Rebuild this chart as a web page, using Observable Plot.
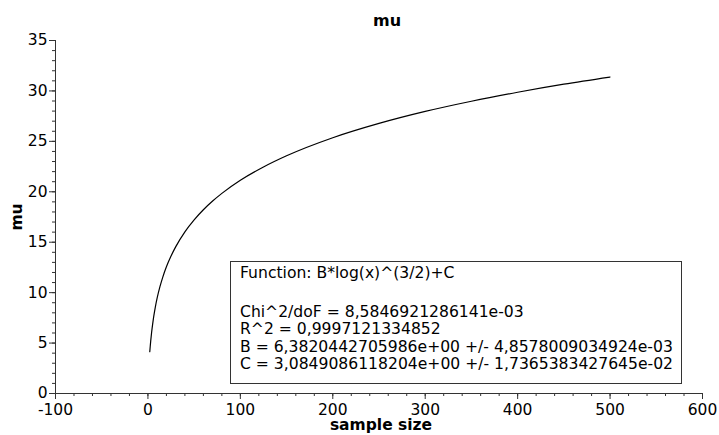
<!DOCTYPE html>
<html>
<head>
<meta charset="utf-8">
<script src="https://cdn.jsdelivr.net/npm/d3@7"></script>
<script src="https://cdn.jsdelivr.net/npm/@observablehq/plot@0.6"></script>
<style>
  html, body { margin: 0; padding: 0; background: white; }
  #wrap { position: relative; width: 719px; height: 435px; font-family: "DejaVu Sans", sans-serif; }
  #legend { position: absolute; left: 230px; top: 261px; width: 452px; height: 123px; border: 1px solid #333; background: white; font-size: 15.6px; line-height: 18px; color: #000; box-sizing: border-box; }
  #legend div { position: absolute; left: 9px; white-space: nowrap; }
</style>
</head>
<body>
<div id="wrap"></div>
<script>
// Sample sizes and fitted mu values
const sampleSize = [2, 2.5, 3, 4, 5, 6, 7, 8, 10, 13, 16, 20, 25, 30, 40, 50, 60, 70, 80, 100, 125, 150, 200, 250, 300, 350, 400, 450, 500];
const muValues   = [4.14, 4.69, 5.19, 6.07, 6.81, 7.47, 8.04, 8.56, 9.47, 10.59, 11.52, 12.56, 13.63, 14.54, 16.03, 17.22, 18.22, 19.08, 19.84, 21.14, 22.46, 23.57, 25.36, 26.78, 27.97, 28.98, 29.87, 30.67, 31.38];

// Tick labels
const xTicks = [-100, 0, 100, 200, 300, 400, 500, 600];
const yTicks = [0, 5, 10, 15, 20, 25, 30, 35];
const xMinorTicks = d3.range(-100, 601, 20);
const yMinorTicks = d3.range(0, 36, 1);

// Texts
const titleText = "mu";
const xLabel = "sample size";
const yLabel = "mu";
const legendLines = [
  "Function: B*log(x)^(3/2)+C",
  "Chi^2/doF = 8,5846921286141e-03",
  "R^2 = 0,9997121334852",
  "B = 6,3820442705986e+00 +/- 4,8578009034924e-03",
  "C = 3,0849086118204e+00 +/- 1,7365383427645e-02"
];

const data = sampleSize.map((x, i) => ({x, y: muValues[i]}));
const fmt = d => String(d);

const chart = Plot.plot({
  width: 719,
  height: 435,
  marginLeft: 55,
  marginRight: 17,
  marginTop: 40,
  marginBottom: 42,
  x: {domain: [-100, 600]},
  y: {domain: [0, 35]},
  style: {fontFamily: "DejaVu Sans, sans-serif", fontSize: "15.5px", color: "#000", background: "white", overflow: "visible"},
  marks: [
    Plot.axisX({ticks: xMinorTicks, tickSize: 3, tickFormat: () => "", label: null, stroke: "#333"}),
    Plot.axisX({ticks: xTicks, tickSize: 6, tickPadding: 4, tickFormat: fmt, label: null, stroke: "#333", fill: "#000"}),
    Plot.axisY({ticks: yMinorTicks, tickSize: 3, tickFormat: () => "", label: null, stroke: "#333"}),
    Plot.axisY({ticks: yTicks, tickSize: 6, tickPadding: 2, tickFormat: fmt, label: null, stroke: "#333", fill: "#000"}),
    Plot.ruleY([0], {stroke: "#333"}),
    Plot.ruleX([-100], {stroke: "#333"}),
    Plot.line(data, {x: "x", y: "y", stroke: "#000", strokeWidth: 1.2, curve: "monotone-x"}),
    Plot.text([titleText], {frameAnchor: "top", lineAnchor: "middle", dy: -20, dx: 8, fontWeight: "bold", fontSize: 16, fill: "#000"}),
    Plot.text([xLabel], {frameAnchor: "bottom", lineAnchor: "middle", dy: 32, dx: 2, fontWeight: "bold", fill: "#000"}),
    Plot.text([yLabel], {frameAnchor: "left", lineAnchor: "middle", textAnchor: "middle", dx: -38, rotate: -90, fontWeight: "bold", fill: "#000"})
  ]
});

const wrap = document.getElementById("wrap");
wrap.appendChild(chart);

const legend = document.createElement("div");
legend.id = "legend";
const lineTops = [2, 41, 58, 76, 93];
legendLines.forEach((t, i) => {
  const d = document.createElement("div");
  d.textContent = t;
  d.style.top = lineTops[i] + "px";
  legend.appendChild(d);
});
wrap.appendChild(legend);
</script>
</body>
</html>
